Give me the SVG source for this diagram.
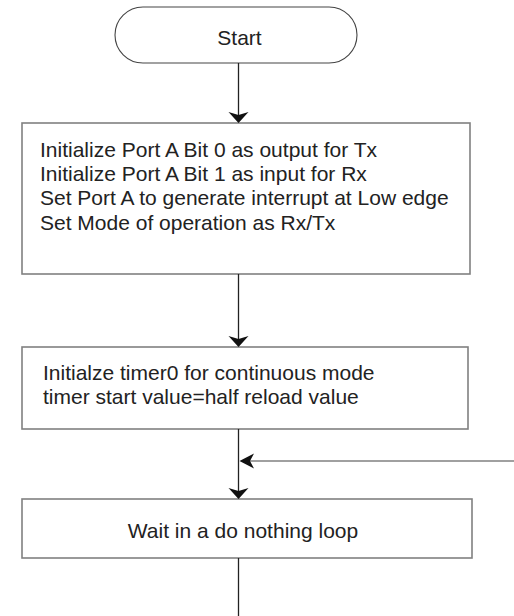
<svg xmlns="http://www.w3.org/2000/svg" width="514" height="616" viewBox="0 0 514 616">
<defs>
<style>
text{font-family:"Liberation Sans",Arial,sans-serif;font-size:21px;fill:#222}
.box{fill:#fff;stroke:#808080;stroke-width:1.6}
.term{fill:#fff;stroke:#444;stroke-width:1.1}
.ln{stroke:#222;stroke-width:1.3;fill:none}
.fb{stroke:#808080;stroke-width:1.6;fill:none}
.ah{fill:#111}
</style>
</defs>
<rect width="514" height="616" fill="#fff"/>
<g id="start">
<rect class="term" x="115" y="7" width="242" height="56" rx="28" ry="28"/>
<text x="239.5" y="45" text-anchor="middle">Start</text>
</g>
<g id="init-port">
<rect class="box" x="22" y="123" width="448" height="151"/>
<text x="40" y="156.5">Initialize Port A Bit 0 as output for Tx</text>
<text x="40" y="181">Initialize Port A Bit 1 as input for Rx</text>
<text x="40" y="205.3">Set Port A to generate interrupt at Low edge</text>
<text x="40" y="229.7">Set Mode of operation as Rx/Tx</text>
</g>
<g id="init-timer">
<rect class="box" x="22" y="347" width="446" height="82"/>
<text x="43" y="380">Initialze timer0 for continuous mode</text>
<text x="43" y="404.3">timer start value=half reload value</text>
</g>
<g id="wait">
<rect class="box" x="22" y="499" width="450" height="59"/>
<text x="243" y="538" text-anchor="middle">Wait in a do nothing loop</text>
</g>
<g id="connectors">
<line class="ln" x1="238.5" y1="63" x2="238.5" y2="118"/>
<path class="ah" d="M238.5,123 L228.5,112 L238.5,115 L248.5,112 Z"/>
<line class="ln" x1="238.5" y1="274" x2="238.5" y2="342"/>
<path class="ah" d="M238.5,347 L228.5,336 L238.5,339 L248.5,336 Z"/>
<line class="ln" x1="238.5" y1="429" x2="238.5" y2="494"/>
<path class="ah" d="M238.5,499 L228.5,488 L238.5,491 L248.5,488 Z"/>
<line class="fb" x1="514" y1="461" x2="246" y2="461"/>
<path class="ah" d="M239.5,461 L254,453.5 L250,461 L254,468.5 Z"/>
<line class="ln" x1="238.5" y1="558" x2="238.5" y2="616"/>
</g>
</svg>
